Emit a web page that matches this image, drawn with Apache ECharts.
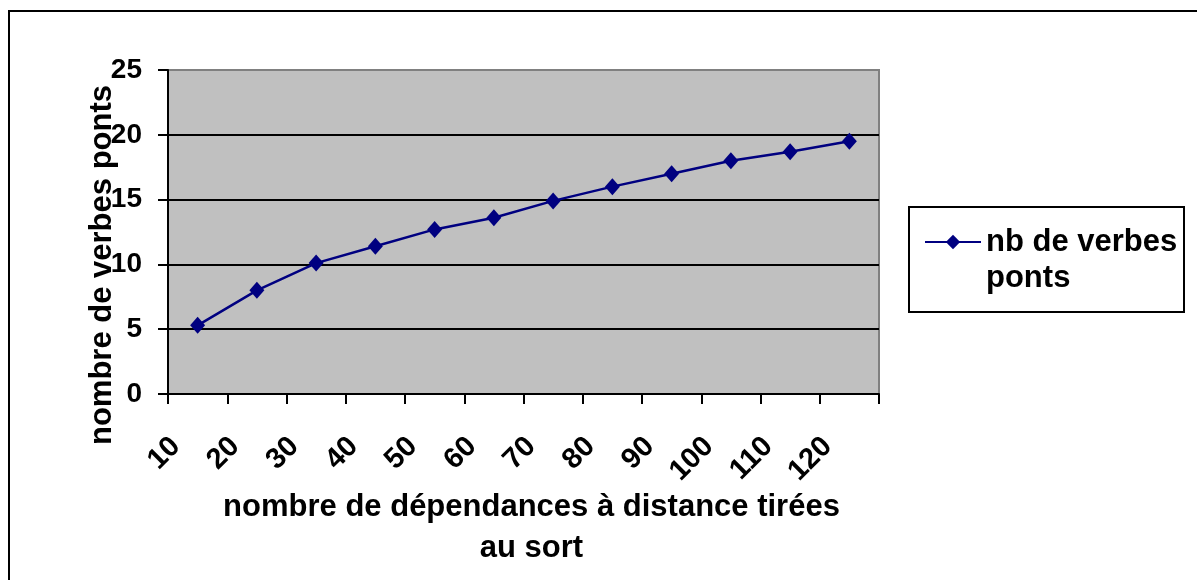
<!DOCTYPE html>
<html>
<head>
<meta charset="utf-8">
<script src="https://cdn.jsdelivr.net/npm/echarts@6/dist/echarts.min.js"></script>
<style>
  html, body { margin: 0; padding: 0; background: #fff; }
  #chart { width: 1197px; height: 580px; }
</style>
</head>
<body>
<div id="chart"></div>
<script>
// données du graphique
const categories = ["10", "20", "30", "40", "50", "60", "70", "80", "90", "100", "110", "120"];
const values = [5.3, 8.0, 10.1, 11.4, 12.7, 13.6, 14.9, 16.0, 17.0, 18.0, 18.7, 19.5];
const seriesName = "nb de verbes ponts";
const xTitle = "nombre de dépendances à distance tirées\nau sort";
const yTitle = "nombre de verbes ponts";

const font = "'Liberation Sans', Arial, sans-serif";
const navy = "#000080";

const myChart = echarts.init(document.getElementById("chart"));

const option = {
  backgroundColor: "#fff",
  animation: false,
  // cadre extérieur + cadre de la légende
  graphic: [
    {
      type: "rect",
      shape: { x: 9, y: 11, width: 1210, height: 600 },
      style: { fill: "none", stroke: "#000", lineWidth: 2 },
      z: -1,
    },
    {
      type: "rect",
      shape: { x: 909, y: 207, width: 275, height: 105 },
      style: { fill: "#fff", stroke: "#000", lineWidth: 2 },
      z: -1,
    },
  ],
  grid: {
    left: 168,
    top: 70,
    right: 318,
    bottom: 186,
    show: true,
    backgroundColor: "#C0C0C0",
    borderColor: "#808080",
    borderWidth: 2,
  },
  legend: {
    left: 924,
    top: 188,
    padding: 0,
    itemWidth: 56,
    itemHeight: 18,
    // ligne vide devant pour aligner le symbole sur la 1re ligne
    formatter: (name) => "\n" + name.replace(" ponts", "\nponts"),
    textStyle: {
      fontFamily: font,
      fontWeight: "bold",
      fontSize: 31,
      color: "#000",
      lineHeight: 36,
    },
  },
  xAxis: {
    type: "category",
    data: categories,
    boundaryGap: true,
    name: xTitle,
    nameLocation: "middle",
    nameGap: 93,
    nameMoveOverlap: false,
    nameTextStyle: {
      fontFamily: font,
      fontWeight: "bold",
      fontSize: 31,
      color: "#000",
      lineHeight: 41,
      padding: [0, 0, 0, 16],
    },
    axisLine: { lineStyle: { color: "#000", width: 2 } },
    axisTick: { show: true, length: 10, lineStyle: { color: "#000", width: 2 } },
    axisLabel: {
      rotate: 45,
      margin: 26,
      interval: 0,
      padding: [0, 31, 0, 0],
      fontFamily: font,
      fontWeight: "bold",
      fontSize: 29,
      color: "#000",
    },
    splitLine: { show: false },
  },
  yAxis: {
    type: "value",
    min: 0,
    max: 25,
    interval: 5,
    name: yTitle,
    nameLocation: "middle",
    nameGap: 50,
    nameMoveOverlap: false,
    nameTextStyle: {
      fontFamily: font,
      fontWeight: "bold",
      fontSize: 31,
      color: "#000",
      padding: [0, 66, 0, 0],
    },
    axisLine: { show: true, lineStyle: { color: "#000", width: 2 } },
    axisTick: { show: true, length: 10, lineStyle: { color: "#000", width: 2 } },
    axisLabel: {
      margin: 26,
      fontFamily: font,
      fontWeight: "bold",
      fontSize: 28,
      color: "#000",
    },
    splitLine: {
      show: true,
      showMinLine: false,
      showMaxLine: false,
      lineStyle: { color: "#000", width: 2 },
    },
  },
  series: [
    {
      name: seriesName,
      type: "line",
      data: values,
      symbol: "diamond",
      symbolSize: [15, 17],
      lineStyle: { color: navy, width: 2.5 },
      itemStyle: { color: navy },
    },
  ],
};

myChart.setOption(option);
</script>
</body>
</html>
